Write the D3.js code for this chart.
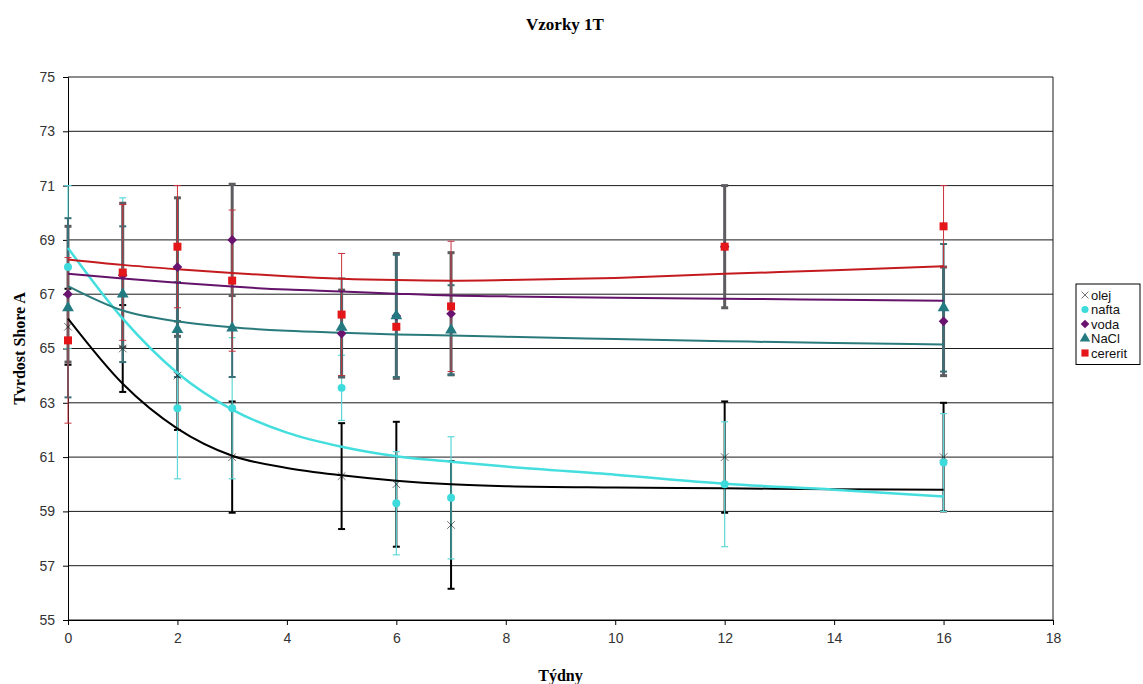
<!DOCTYPE html>
<html>
<head>
<meta charset="utf-8">
<script src="https://cdn.jsdelivr.net/npm/d3@7"></script>
<style>
  body { margin: 0; background: #fff; }
  svg { display: block; }
  .tick text { font-family: "Liberation Sans", Arial, sans-serif; font-size: 14px; fill: #333; }
  .title, .axis-label { font-family: "Liberation Serif", "Times New Roman", serif; font-weight: bold; }
  .legend text { font-family: "Liberation Sans", Arial, sans-serif; font-size: 13px; fill: #111; }
</style>
</head>
<body>
<svg id="chart"></svg>
<script>
const weeks = [0, 1, 2, 3, 5, 6, 7, 12, 16];

const olej      = [65.8, 65.0, 64.0, 61.0, 60.3, 60.0, 58.5, 61.0, 61.0];
const olejErr   = [1.4, 1.6, 2.0, 2.05, 1.95, 2.3, 2.35, 2.05, 2.0];
const nafta     = [68.0, 67.8, 62.8, 62.8, 63.55, 59.3, 59.5, 60.0, 60.8];
const naftaErr  = [3.0, 2.75, 2.6, 2.6, 1.2, 1.9, 2.25, 2.3, 1.8];
const voda      = [67.0, 67.7, 68.0, 69.0, 65.55, 66.2, 66.28, 68.75, 66.0];
const vodaErr   = [2.5, 2.65, 2.55, 2.05, 1.6, 2.3, 2.25, 2.25, 2.0];
const nacl      = [66.5, 67.0, 65.7, 65.75, 65.78, 66.2, 65.68, null, 66.5];
const naclErr   = [3.3, 2.5, 1.75, 1.8, 1.8, 2.25, 1.65, null, 2.35];
const cererit   = [65.3, 67.8, 68.75, 67.5, 66.25, 65.8, 66.55, 68.75, 69.5];
const cereritErr = [3.05, 2.5, 2.25, 2.6, 2.25, null, 2.4, null, 1.5];

// trendlines as drawn in the original
const trendWeeks   = [0, 1, 2, 3, 4, 5, 6, 7, 8, 10, 12, 14, 16];
const olejTrend    = [66.1, 63.7, 62.05, 61.05, 60.6, 60.33, 60.13, 60.0, 59.93, 59.88, 59.85, 59.82, 59.8];
const naftaTrend   = [68.7, 66.1, 64.1, 62.75, 61.9, 61.38, 61.03, 60.83, 60.65, 60.35, 60.02, 59.8, 59.55];
const vodaTrend    = [67.75, 67.58, 67.42, 67.28, 67.17, 67.1, 67.02, 66.95, 66.92, 66.87, 66.83, 66.8, 66.76];
const naclTrend    = [67.3, 66.4, 66.0, 65.78, 65.65, 65.58, 65.52, 65.48, 65.43, 65.35, 65.27, 65.2, 65.15];
const cereritTrend = [68.28, 68.08, 67.92, 67.78, 67.66, 67.57, 67.52, 67.5, 67.52, 67.6, 67.75, 67.88, 68.03];

const xTicks = [0, 2, 4, 6, 8, 10, 12, 14, 16, 18];
const yTicks = [55, 57, 59, 61, 63, 65, 67, 69, 71, 73, 75];

const seriesNames = ['olej', 'nafta', 'voda', 'NaCl', 'cererit'];

class HardnessChart {
    constructor(_config, _series) {
        this.config = {
            parentElement: _config.parentElement,
            containerWidth: _config.containerWidth || 1143,
            containerHeight: _config.containerHeight || 684,
            margin: _config.margin || {top: 77, right: 90, bottom: 64, left: 68}
        };
        this.series = _series;
        this.initVis();
    }

    initVis() {
        let vis = this;

        vis.width = vis.config.containerWidth - vis.config.margin.left - vis.config.margin.right;
        vis.height = vis.config.containerHeight - vis.config.margin.top - vis.config.margin.bottom;

        vis.svg = d3.select(vis.config.parentElement)
            .attr('width', vis.config.containerWidth)
            .attr('height', vis.config.containerHeight);

        vis.svg.append('rect')
            .attr('width', vis.config.containerWidth)
            .attr('height', vis.config.containerHeight)
            .attr('fill', '#fff');

        vis.chart = vis.svg.append('g')
            .attr('transform', `translate(${vis.config.margin.left},${vis.config.margin.top})`);

        vis.xScale = d3.scaleLinear().domain([0, 18]).range([0, vis.width]);
        vis.yScale = d3.scaleLinear().domain([55, 75]).range([vis.height, 0]);

        // horizontal gridlines
        vis.chart.append('g')
            .selectAll('line')
            .data(yTicks)
            .join('line')
            .attr('x1', 0)
            .attr('x2', vis.width)
            .attr('y1', d => vis.yScale(d))
            .attr('y2', d => vis.yScale(d))
            .attr('stroke', '#1a1a1a')
            .attr('stroke-width', 1);

        // right border of plot area
        vis.chart.append('line')
            .attr('x1', vis.width).attr('x2', vis.width)
            .attr('y1', 0).attr('y2', vis.height)
            .attr('stroke', '#1a1a1a');

        vis.xAxis = d3.axisBottom(vis.xScale).tickValues(xTicks).tickSize(5).tickPadding(8);
        vis.yAxis = d3.axisLeft(vis.yScale).tickValues(yTicks).tickSize(5).tickPadding(8);

        vis.chart.append('g')
            .attr('transform', `translate(0,${vis.height})`)
            .call(vis.xAxis)
            .call(g => g.selectAll('path, line').attr('stroke', '#000'));

        vis.chart.append('g')
            .call(vis.yAxis)
            .call(g => g.selectAll('path, line').attr('stroke', '#000'));

        vis.svg.append('text')
            .attr('class', 'title')
            .attr('x', 565)
            .attr('y', 30)
            .attr('text-anchor', 'middle')
            .attr('font-size', 17)
            .text('Vzorky 1T');

        vis.svg.append('text')
            .attr('class', 'axis-label')
            .attr('x', vis.config.margin.left + vis.width / 2)
            .attr('y', 681)
            .attr('text-anchor', 'middle')
            .attr('font-size', 16)
            .text('Týdny');

        vis.svg.append('text')
            .attr('class', 'axis-label')
            .attr('transform', `translate(25,${vis.config.margin.top + vis.height / 2}) rotate(-90)`)
            .attr('text-anchor', 'middle')
            .attr('font-size', 16)
            .text('Tvrdost Shore A');

        vis.updateVis();
    }

    symbolPath(shape, size) {
        const types = {
            cross: d3.symbolTimes,
            circle: d3.symbolCircle,
            diamond: d3.symbolDiamond2,
            triangle: d3.symbolTriangle,
            square: d3.symbolSquare
        };
        return d3.symbol().type(types[shape]).size(size)();
    }

    updateVis() {
        let vis = this;
        const cap = 3.5;

        const line = d3.line()
            .x(d => vis.xScale(d[0]))
            .y(d => vis.yScale(d[1]))
            .curve(d3.curveMonotoneX);

        // error bars first, in series order
        vis.series.forEach(s => {
            const pts = weeks.map((w, i) => ({w, v: s.values[i], e: s.errors[i]}))
                .filter(p => p.v != null && p.e != null);
            const g = vis.chart.append('g').attr('class', 'err-' + s.name)
                .attr('stroke', s.errColor)
                .attr('stroke-width', s.errWidth);
            g.selectAll('line.bar').data(pts).join('line').attr('class', 'bar')
                .attr('x1', d => vis.xScale(d.w)).attr('x2', d => vis.xScale(d.w))
                .attr('y1', d => vis.yScale(d.v - d.e)).attr('y2', d => vis.yScale(d.v + d.e));
            g.selectAll('line.top').data(pts).join('line').attr('class', 'top')
                .attr('x1', d => vis.xScale(d.w) - cap).attr('x2', d => vis.xScale(d.w) + cap)
                .attr('y1', d => vis.yScale(d.v + d.e)).attr('y2', d => vis.yScale(d.v + d.e));
            g.selectAll('line.bot').data(pts).join('line').attr('class', 'bot')
                .attr('x1', d => vis.xScale(d.w) - cap).attr('x2', d => vis.xScale(d.w) + cap)
                .attr('y1', d => vis.yScale(d.v - d.e)).attr('y2', d => vis.yScale(d.v - d.e));
        });

        // trendlines
        vis.series.forEach(s => {
            vis.chart.append('path')
                .datum(trendWeeks.map((w, i) => [w, s.trend[i]]))
                .attr('fill', 'none')
                .attr('stroke', s.lineColor)
                .attr('stroke-width', s.lineWidth)
                .attr('d', line);
        });

        // markers
        vis.series.forEach(s => {
            const pts = weeks.map((w, i) => ({w, v: s.values[i]})).filter(p => p.v != null);
            vis.chart.append('g')
                .selectAll('path')
                .data(pts)
                .join('path')
                .attr('transform', d => `translate(${vis.xScale(d.w)},${vis.yScale(d.v)})`)
                .attr('d', vis.symbolPath(s.shape, s.size))
                .attr('fill', s.color)
                .attr('stroke', s.shape === 'cross' ? s.color : 'none')
                .attr('stroke-width', s.shape === 'cross' ? 0.6 : 0);
        });

        vis.renderLegend();
    }

    renderLegend() {
        let vis = this;
        const lx = 1076, ly = 284, lh = 14.5;
        const legend = vis.svg.append('g').attr('class', 'legend');
        legend.append('rect')
            .attr('x', lx).attr('y', ly)
            .attr('width', 64).attr('height', vis.series.length * lh + 8)
            .attr('fill', '#fff').attr('stroke', '#000');

        const items = legend.selectAll('g.item')
            .data(vis.series)
            .join('g').attr('class', 'item')
            .attr('transform', (d, i) => `translate(${lx + 9},${ly + 11 + i * lh})`);

        items.append('path')
            .attr('d', d => vis.symbolPath(d.shape, d.size * 0.8))
            .attr('fill', d => d.color)
            .attr('stroke', d => d.shape === 'cross' ? d.color : 'none')
            .attr('stroke-width', d => d.shape === 'cross' ? 0.6 : 0);

        items.append('text')
            .attr('x', 6)
            .attr('dy', '0.35em')
            .text(d => d.name);
    }
}

const series = [
    {name: seriesNames[0], values: olej, errors: olejErr, trend: olejTrend, shape: 'cross', size: 40,
     color: '#111', errColor: '#000', errWidth: 2, lineColor: '#000', lineWidth: 2},
    {name: seriesNames[1], values: nafta, errors: naftaErr, trend: naftaTrend, shape: 'circle', size: 50,
     color: '#3ddbdb', errColor: '#5fd7d7', errWidth: 1.2, lineColor: '#45dede', lineWidth: 2.5},
    {name: seriesNames[2], values: voda, errors: vodaErr, trend: vodaTrend, shape: 'diamond', size: 60,
     color: '#6a1470', errColor: '#5e5c60', errWidth: 3, lineColor: '#64126a', lineWidth: 2},
    {name: seriesNames[3], values: nacl, errors: naclErr, trend: naclTrend, shape: 'triangle', size: 60,
     color: '#237a80', errColor: '#3a7078', errWidth: 2, lineColor: '#2a7a7c', lineWidth: 2},
    {name: seriesNames[4], values: cererit, errors: cereritErr, trend: cereritTrend, shape: 'square', size: 64,
     color: '#e4161a', errColor: '#c8323c', errWidth: 1, lineColor: '#c41a1e', lineWidth: 2}
];

new HardnessChart({parentElement: '#chart'}, series);
</script>
</body>
</html>
